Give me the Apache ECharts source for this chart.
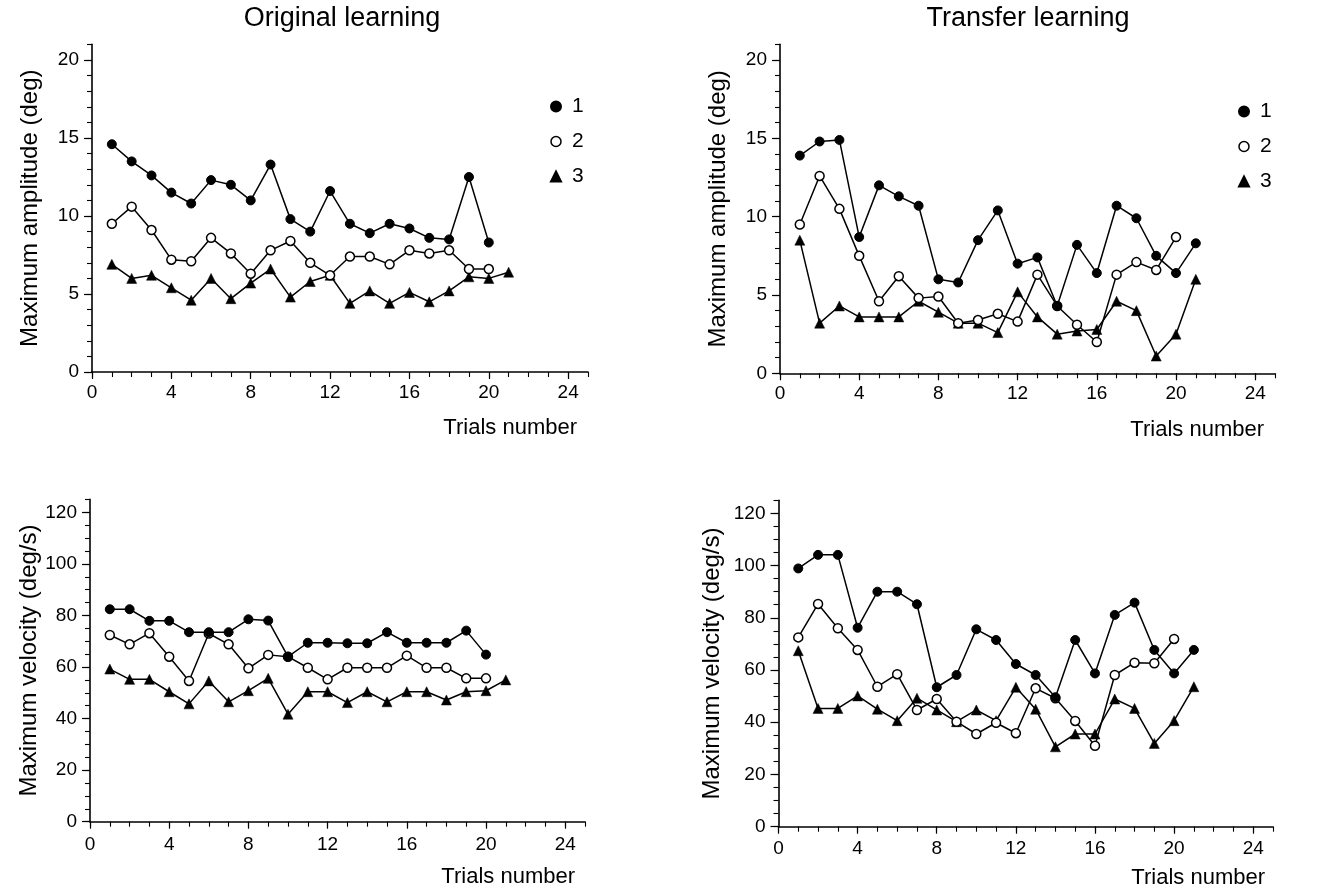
<!DOCTYPE html>
<html>
<head>
<meta charset="utf-8">
<script src="https://cdn.jsdelivr.net/npm/echarts@6/dist/echarts.min.js"></script>
<style>
html,body{margin:0;padding:0;background:#fff;}
#chart{width:1320px;height:891px;}
</style>
</head>
<body>
<div id="chart"></div>
<script>
// ---- data ----
var trials = [1,2,3,4,5,6,7,8,9,10,11,12,13,14,15,16,17,18,19,20,21];
var seriesNames = ['1','2','3'];
var panelTitles = ['Original learning','Transfer learning'];
var ampName = 'Maximum amplitude (deg)';
var velName = 'Maximum velocity (deg/s)';
var xName = 'Trials number';
var xTickLabels = [0,4,8,12,16,20,24];
var ampTickLabels = [0,5,10,15,20];
var velTickLabels = [0,20,40,60,80,100,120];

var origAmp1 = [14.6,13.5,12.6,11.5,10.8,12.3,12.0,11.0,13.3,9.8,9.0,11.6,9.5,8.9,9.5,9.2,8.6,8.5,12.5,8.3];
var origAmp2 = [9.5,10.6,9.1,7.2,7.1,8.6,7.6,6.3,7.8,8.4,7.0,6.2,7.4,7.4,6.9,7.8,7.6,7.8,6.6,6.6];
var origAmp3 = [6.9,6.0,6.2,5.4,4.6,6.0,4.7,5.7,6.6,4.8,5.8,6.2,4.4,5.2,4.4,5.1,4.5,5.2,6.1,6.0,6.4];

var transAmp1 = [13.9,14.8,14.9,8.7,12.0,11.3,10.7,6.0,5.8,8.5,10.4,7.0,7.4,4.3,8.2,6.4,10.7,9.9,7.5,6.4,8.3];
var transAmp2 = [9.5,12.6,10.5,7.5,4.6,6.2,4.8,4.9,3.2,3.4,3.8,3.3,6.3,4.3,3.1,2.0,6.3,7.1,6.6,8.7];
var transAmp3 = [8.5,3.2,4.3,3.6,3.6,3.6,4.6,3.9,3.2,3.2,2.6,5.2,3.6,2.5,2.7,2.8,4.6,4.0,1.1,2.5,6.0];

var origVel1 = [82.4,82.4,77.9,77.9,73.5,73.5,73.5,78.5,78.0,64.0,69.4,69.4,69.2,69.2,73.5,69.4,69.4,69.4,74.1,64.8];
var origVel2 = [72.4,68.8,73.1,64.0,54.6,73.0,68.8,59.5,64.7,64.0,59.7,55.2,59.7,59.7,59.7,64.4,59.7,59.7,55.6,55.6];
var origVel3 = [59.2,55.2,55.2,50.4,45.7,54.6,46.5,50.8,55.6,41.7,50.4,50.4,46.2,50.4,46.5,50.4,50.4,47.2,50.4,50.8,55.0];

var transVel1 = [98.9,104.1,104.1,76.2,90.0,90.0,85.2,53.4,58.1,75.6,71.5,62.3,58.1,49.6,71.5,58.7,81.1,85.8,67.7,58.7,67.7];
var transVel2 = [72.5,85.3,76.0,67.7,53.6,58.4,44.7,48.9,40.2,35.5,39.8,35.8,53.0,49.2,40.5,31.0,58.1,62.8,62.6,71.9];
var transVel3 = [67.4,45.3,45.3,50.1,45.0,40.6,49.2,44.7,40.2,44.7,40.6,53.4,45.0,30.6,35.5,35.5,48.9,45.3,31.9,40.6,53.6];

// ---- layout ----
var FONT = '"Liberation Sans", Arial, Helvetica, sans-serif';
var grids = [
  {left:92,  top:44.4,  width:496,   height:327.6},
  {left:780, top:44.4,  width:495,   height:328.9},
  {left:90,  top:499.4, width:495,   height:322.3},
  {left:778.5, top:500.3, width:494.5, height:326.4}
];
var panels = [
  {data:[origAmp1,origAmp2,origAmp3], yMax:21, yMinor:1, yLabels:ampTickLabels, yName:ampName, nameGap:50, xMargin:11},
  {data:[transAmp1,transAmp2,transAmp3], yMax:21, yMinor:1, yLabels:ampTickLabels, yName:ampName, nameGap:50, xMargin:11},
  {data:[origVel1,origVel2,origVel3], yMax:125, yMinor:5, yLabels:velTickLabels, yName:velName, nameGap:48, xMargin:14},
  {data:[transVel1,transVel2,transVel3], yMax:125, yMinor:5, yLabels:velTickLabels, yName:velName, nameGap:54, xMargin:13}
];

var xAxes = [], yAxes = [], series = [];
var lineW = 1.5;
panels.forEach(function(p, i){
  xAxes.push({
    type:'value', gridIndex:i, min:0, max:25, position:'bottom',
    axisLine:{show:true, onZero:false, lineStyle:{color:'#000', width:1.6}},
    axisTick:{show:true, customValues:xTickLabels, length:7, lineStyle:{color:'#000', width:1.2}},
    axisLabel:{show:true, customValues:xTickLabels, margin:p.xMargin, color:'#000', fontSize:19, fontFamily:FONT},
    splitLine:{show:false}
  });
  xAxes.push({
    type:'value', gridIndex:i, min:0, max:25, interval:1, position:'bottom',
    axisLine:{show:false, onZero:false},
    axisTick:{show:true, length:5, lineStyle:{color:'#000', width:1.1}},
    axisLabel:{show:false},
    splitLine:{show:false}
  });
  yAxes.push({
    type:'value', gridIndex:i, min:0, max:p.yMax, position:'left',
    name:p.yName, nameLocation:'middle', nameGap:p.nameGap, nameRotate:90,
    nameTextStyle:{color:'#000', fontSize:24, fontFamily:FONT},
    axisLine:{show:true, onZero:false, lineStyle:{color:'#000', width:1.6}},
    axisTick:{show:true, customValues:p.yLabels, length:8, lineStyle:{color:'#000', width:1.2}},
    axisLabel:{show:true, customValues:p.yLabels, margin:13, color:'#000', fontSize:19, fontFamily:FONT},
    splitLine:{show:false}
  });
  yAxes.push({
    type:'value', gridIndex:i, min:0, max:p.yMax, interval:p.yMinor, position:'left',
    axisLine:{show:false, onZero:false},
    axisTick:{show:true, length:5, lineStyle:{color:'#000', width:1.1}},
    axisLabel:{show:false},
    splitLine:{show:false}
  });
  var styles = [
    {symbol:'circle', size:9, item:{color:'#000', borderColor:'#000', borderWidth:1}},
    {symbol:'circle', size:9, item:{color:'#fff', borderColor:'#000', borderWidth:1.5}},
    {symbol:'triangle', size:10, item:{color:'#000', borderColor:'#000', borderWidth:0.5}}
  ];
  [2,1,0].forEach(function(k){
    var vals = p.data[k];
    series.push({
      name:seriesNames[k], type:'line', xAxisIndex:2*i, yAxisIndex:2*i,
      data: vals.map(function(v, j){ return [trials[j], v]; }),
      symbol:styles[k].symbol, symbolSize:styles[k].size, showSymbol:true,
      itemStyle:styles[k].item,
      lineStyle:{color:'#000', width:lineW},
      z: 3 + (2-k),
      animation:false, silent:true
    });
  });
});

function legendFor(left, top){
  return {
    orient:'vertical', left:left, top:top, itemGap:14, itemWidth:10, itemHeight:10,
    selectedMode:false,
    textStyle:{color:'#000', fontSize:21, fontFamily:FONT, padding:[0,0,0,6]},
    data:[
      {name:'1', icon:'circle'},
      {name:'2', icon:'circle', itemStyle:{color:'#fff', borderColor:'#000', borderWidth:1.5}},
      {name:'3', icon:'triangle'}
    ]
  };
}

function txt(s, x, y, size, align){
  return {type:'text', x:x, y:y, style:{text:s, textAlign:align, textVerticalAlign:'middle', fontSize:size, fontFamily:FONT, fill:'#000'}};
}
var graphics = [
  txt(panelTitles[0], 342, 19, 27, 'center'),
  txt(panelTitles[1], 1028, 19, 27, 'center'),
  txt(xName, 577, 428, 22, 'right'),
  txt(xName, 1264, 430, 22, 'right'),
  txt(xName, 575, 877, 22, 'right'),
  txt(xName, 1265, 878, 22, 'right')
];

var chart = echarts.init(document.getElementById('chart'), null, {renderer:'canvas'});
chart.setOption({
  backgroundColor:'#fff',
  animation:false,
  textStyle:{fontFamily:FONT},
  grid:grids.map(function(g){ return {left:g.left, top:g.top, width:g.width, height:g.height, containLabel:false}; }),
  xAxis:xAxes,
  yAxis:yAxes,
  legend:[legendFor(545, 91), legendFor(1233, 96)],
  series:series,
  graphic:graphics
});
</script>
</body>
</html>
